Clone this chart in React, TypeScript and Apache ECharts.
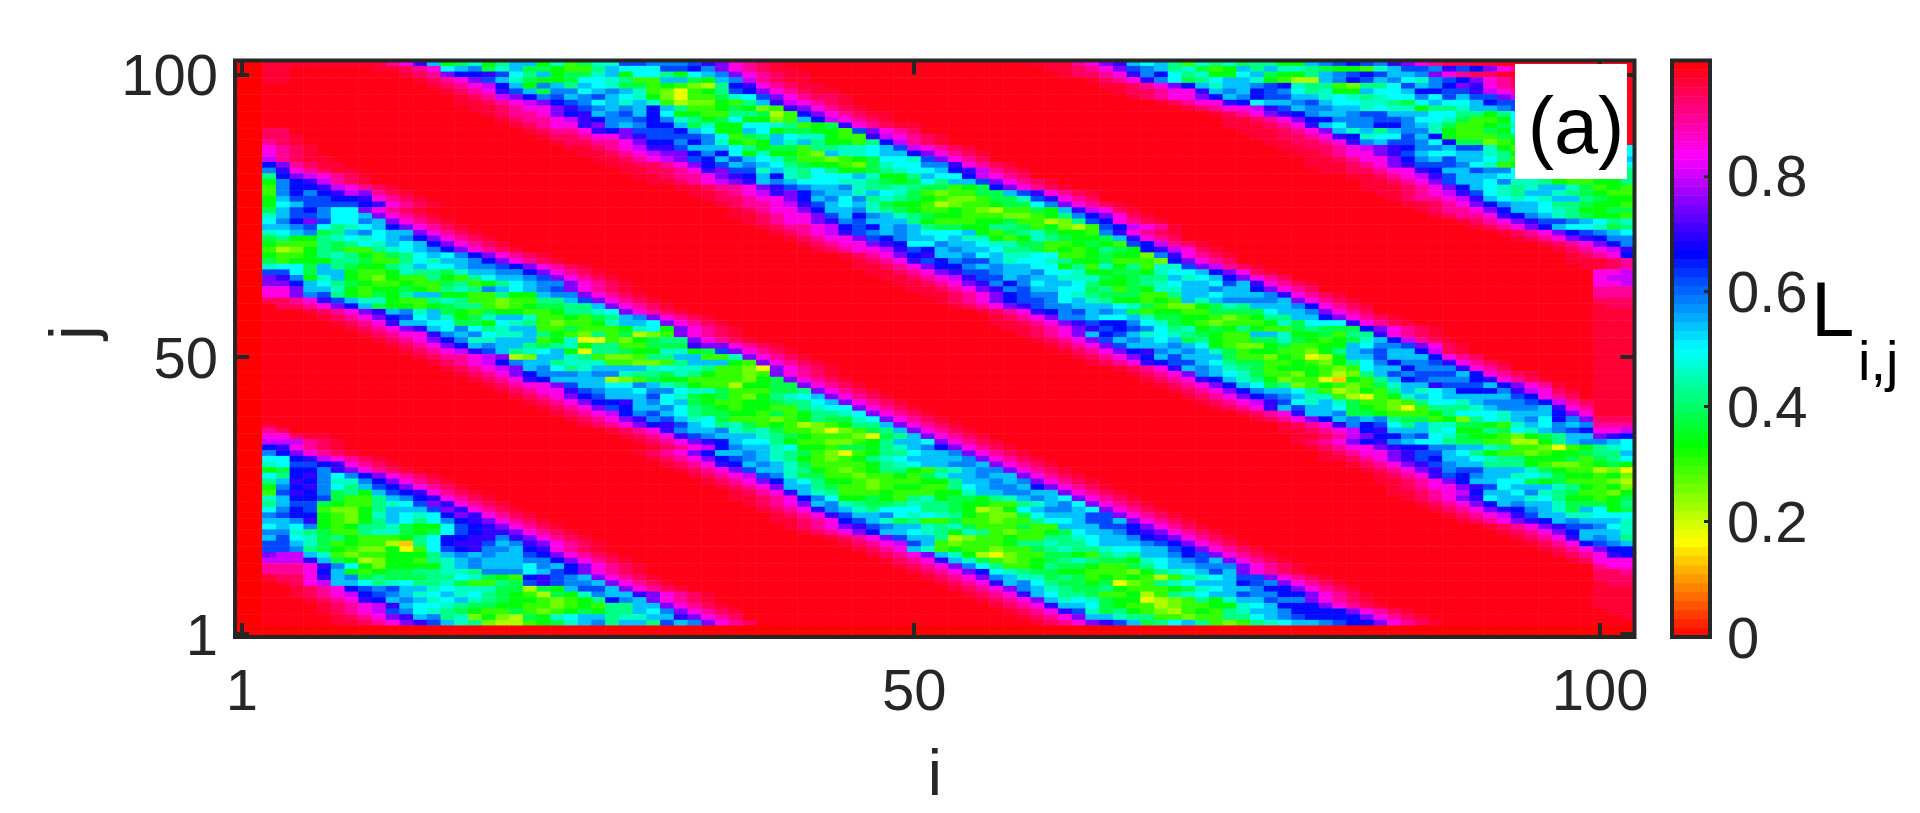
import React, { useEffect, useRef } from "react";
import * as echarts from "echarts";

const COLS = 102;
const ROW_COUNT = 102;
const xTickIndex = [0, 49, 99];
const yTickIndex = [0, 49, 99];
const colorbarTicks = [0, 0.2, 0.4, 0.6, 0.8];
const hsvStops = ["#ff0000", "#ffff00", "#00ff00", "#00ffff", "#0000ff", "#ff00ff", "#ff0000"];

// value for every cell letter (hue of the colour map)
const levels: Record<string, number> = {
  ".": 0.985, a: 0.965, b: 0.94, c: 0.9, d: 0.85, e: 0.8, f: 0.75, g: 0.7, h: 0.66, i: 0.62, j: 0.58,
  k: 0.54, l: 0.5, m: 0.46, n: 0.42, o: 0.38, p: 0.34, q: 0.3, r: 0.26, s: 0.22, t: 0.18, u: 0.13,
};

// one line per row of the map, top row first: "column:cells"; cells not listed are the saturated red of the bands
const rowsTopDown = [
"2:aa 8:aaacdgkpompnkkpmqommiijjjigfdcba 58:aaacdfgklknqmnmonnppkjihijgfdcbbaa",
"2:aa 10:aabcdlkjomkoopqqnkllliihjjkifg 35:fdcbaa...... 59:aabcdfijknmoqpknkmmnoppqmkiijgihfdcbba",
"2:aa 12:abcfhhgilnkpoomkpllnplkjiihgj 36:fdcbaa...... 60:abbcdgjhlnmpplkoppnkjihikkjfdcbba",
"2:aa 13:abcdfikmoppollmnqqkkopkjihjg 37:ecbaa...... 62:abcdgjlonlkkmpqsskjhikjlmjihfdcb",
"14:abcdehkpjknklmooqpqrsnhjikg 37:gdcbaa...... 63:aabcdfhkmkkjihmnnqrnnlikjhfgdcb",
"15:abcdgikojjlkjkmqrtqpnihjig 38:fdcbaa...... 64:abbcddgkjkhijlnmppkllkhhiigedcb",
"16:abcefhjikjiklmprtqqomlijkh 39:fdcbba..... 65:abcddfhkjhiikkmlmnmlljlikiifed",
"16:aabcdefhijlkmkmqsrrpqnkjih 39:gedcba..... 67:abcddghlkkjikllmmnolkllkhiiggf",
"17:aabcddfgijkjkhknqqpoprqmlj 40:gfdcba..... 69:abcddegikjjkkmlmmpnnmkkjihh",
"18:abccdfhgkjikhlppqqnnosqkll 41:hfdcbaa.... 71:abcdfghjkkjiikkkllnnpnljjii",
"19:abccdeghjjihjmnpolpprqkkii 42:hedcba..... 72:aabcdfhhjjjiijllmoqqplllij",
"20:abcddgfjkjhhkomppllmnqpoml 44:gdcbaa.... 72:aaabcdgkljjhhjkmoqqpommkk",
"21:abccdghfiiihklppklpooppqmli 45:ifdcb..... 73:aaabcdfkmknkjjmpqqoplljkm",
"22:abbcddfgiiiijlqonklmmpqqnkk 46:gedcba.... 74:aabbcdghmllikhpqqqoonkkkl",
"23:abbccdfhhjhjmpqpkmknppqnmkk 47:hecba..... 75:aabbcdgjkiijlhoorqpookjjln",
"24:aabcdeggikkklnpooqnnmmlkll 48:iedcba.... 76:aabbcdefghjjkiimpqqrpnkkll",
"25:aabcdeffhjhlpmppqrkmmlkkjik 49:hfdcba.... 77:aabcddfgikllkkmnppqrqnmkl",
"26:aabcdefihkiklmoqqrqpollmkkj 50:ifdcb..... 78:aabcddfhjkikklnqppqqnnlk",
"27:aabbcdfhikjklnoppqromlljk 51:jgdcba.... 78:aaabcdfgiiijlmqpqqppmmml",
"28:aabbcdgfiimkmnlnpponmllkj 52:hgecba.... 79:aabbcddghkkijjlopqqqpnnm",
"29:aabccdfghkhmnlllkmppnkllmjj 53:hedcb..... 81:aabcdegikkkllnnoopqqnnm",
"30:aabcdefgkjklllmmnopolnkkkjj 54:ifdcba.... 82:aabcdfikkljmmnpqqppnnm",
"32:aabccdfgijkkjmnnmnooqpoooll 55:hfdcba.... 82:aaabcdfhklmnmkkmoqpqpqqrqppn",
"33:aabcdegfhjkkmklmoqrqqooklj 57:igdcba.... 83:aabcdegilmnkkmnopqqrqqppmm",
"34:abbcddfhkjljnmnopqrrqoomnk 58:igdcb..... 84:abccdegklmlmkknoppqopqrrpn",
"35:abccdegiklkmoppqsrqqpooll 59:jfdcba.... 85:aabcdfhjkklnnoppqqqsrtuqp",
"36:abcddfhkkjmnopqqpqrsqqopm 60:kgedba.... 86:abccdfhkklmnppoopqssrsqq",
"36:aabcddfikhjkmnoppqqqrrqpnn 61:jhfdba.... 87:abccdghjkmnoppqqrssqqpp",
"37:abcddfgjikkknpqqqppoqqsrnmk 62:ihdcba.... 89:abcdfgiijklnmpqqsttqrr",
"38:abccdehihkjknooppnnoqprsqplk 63:ihedca.... 90:abcdfhkllmonnoopqqoopp",
"39:abcdegijkjklllkpqonmoppqqnmk 63:jgdcba.... 92:abcdfhijkllnopqnqqpp",
"40:abcddfihjkklkmmpqpmnoppoqpln 64:kgdcb..... 93:abcdfghjjkkmnoqq",
"41:abcddfghlljkklmmooqqpopqpqoo 65:ihecba.... 95:abcdfhjkkn",
"42:abcddegihkjkklnnoqpqpnopqpqq 66:hgedba.... 96:abcdeghkn",
"44:abcdfhgkkjlkmmllqqpopprqmm 67:jgdcba.... 97:abcdhkjp",
"45:abcdgihjiikmllmnppoqqqrmm 68:hfdcb..... 97:aaabcdfhl",
"45:aabcdfhhjkjkkllpnqmpnqmmk 69:ifecba.... 98:aabcgh",
"46:aabcdfgiijkkjllmppoopmllk 70:khfdba.... 99:dde",
"47:aabcdegiikjkkmmmoponnkmlkk 72:hfdcb..... 99:dee",
"48:aabcdfgjhjlkklnpponmlkkli 73:kgdcba.... 99:dde",
"49:aabcdfgjikkllonqopmmkkjk 74:hfdcb..... 99:ccc",
"50:aabcdfhijjlmnoooqqnkklk 75:jgdcba.... 99:ccc",
"51:abcdfhiijlkmnppqpqkmkj 76:kfdcba.... 99:bbb",
"52:abcdfgijjkkklmoqrrpomnkk 77:jhdcba.... 99:abb",
"54:abcdghjikjkoqppqqoooolk 78:jfdcb..... 99:aaa",
"55:abcdfjjkllkmooppqrqpnnk 79:hfdcba.... 99:aaa",
"55:aabcdfgihhjlmopqrqqqpmol 81:gdcba.... 99:aaa",
"56:aabcdfgihijlnmpopnpqqonoo 82:hfdcba.... 99:aaa",
"57:abcdfkhikmlmnopqqkkmppoqn 83:gdcba.... 99:aaa",
"58:abcdfikjklkonpqqoomopqpomk 84:hecba.... 99:aaa",
"59:abcdfikkkjklpqrrpoqqppklj 85:ifdba.... 99:aaa",
"60:abcdfhgjkjkmoqppqqrpnkjik 86:heba..... 99:aaa",
"61:abcdfhkikkkoqqrpqtspkkik 87:hdcb..... 99:aaa",
"62:abcdghiiklnooqqpqrpnljhj 87:igdcba... 99:aaa",
"64:abcdgkjkmnoqpppqrqlkkhj 88:jgdcb.... 99:aaa",
"65:abcdfjklmoqqrpqsrnkiji 89:khdcba... 99:aaa",
"66:abcdghkmnprqqtupqnkhij 90:hgdcba... 99:aaa",
"67:abcdfhklonrqpqrqomkkgi 91:khfdca... 99:aaa",
"68:abcdfhjkklnqsrpqnkmlkh 92:jgedba.. 99:aaa",
"69:abcdfhijkmmqstqpmklkkk 93:ihdcb... 99:aaa",
"70:abcdegilmkmoqqrqnllmkj 94:ihecb.. 99:aaa",
"71:abcdgkikklopqrtqnnnmkj 95:kgdcb. 99:aaa",
"73:abcdgkkjoopqqqpnlllmkk 96:hfdcba 99:aaa",
"74:abcdfhkjkjnooqprnlmkjlh 97:jfdb 99:bbb",
"76:abcdgjhilnkmmoopqmkljkkji 98:jgd 99:ccc",
"76:aabcdehgkkkmlppnolmkjihi 99:dde",
"77:aabcefhhjilmoppqrponkkkhg 99:fgh",
"77:abcdfhgjkllnooqqsspnkjjkl",
"78:abcddfghhjjkkmnqqrtqpnmlkk",
"79:abcddfgiiklnpqqrqpponnklk",
"79:aabcdfgihkklmnnpppoqonlmkl",
"81:abcdfgijkknnnpqrrqpopnkn",
"82:abcdfgjiikkkmopqqsrtqqp",
"83:abcdgihjkkmlmoppqprstrp",
"83:aabcdfhkkllopoqqqrstsrp",
"84:abcddfgilkkkmnpqprsuqq",
"84:aabcdehkkljmnoqqrpqrpo",
"85:abcdfglkkmlnppqpomom",
"86:abcdfhkjkkmooopnkln",
"87:abcdfghjkmoklpol",
"88:abcdegikkmmlll",
"89:abcdfghkjkkkmn",
"91:abcdfgiijlmp",
"92:abcdfhkkkmlo",
"93:abcdgkjkn",
"94:abcdhijkl",
"95:abcdfhhi",
"96:abcdghh",
"97:abddd",
"99:cdd",
"99:bbc",
"99:bbb",
"99:abb",
"99:aaa",
"99:aaa",
"99:aaa",
"99:aaa",
"99:aaa",
"99:aaa",
"99:aaa",
];

const tail = "fdcba..............";

// the middle band, running in from the left edge, row index 12 onward
const middleBandFromRow12 = [
"2:bb", "2:bba", "2:cba", "2:dcba", "2:dcba", "2:ecbaa", "2:hfcbaa", "2:jgdcbaa", "2:nhfedcba", "2:pjhgecba",
"2:qjhhgedcba", "2:qjhjhgefcba", "2:pkiiihhgdcba", "2:plkiiiihgdcba",
`2:okihjll 9:${tail}`,
`2:mkiijllk 10:${tail}`,
`2:ljhfilljk 11:${tail}`,
`2:kkjilnmlkh 12:${tail}`,
`2:mlkjonkjlkk 13:${tail}`,
`2:onppnmlmlkjh 14:${tail}`,
`2:pqqqnonlmklkh 15:${tail}`,
`2:qsrpnoqqnmlkjh 16:${tail}`,
`2:pqqpnmnpqonlkljh 18:${tail}`,
`2:oqpppnnoqqnlmkkjh 19:${tail}`,
`2:mlloknoppnmkllkjjihj 21:${tail}`,
`2:iilokkpqqpmnnomkkjjhhk 22:${tail}`,
`2:fgjpmkpqrpqqnpqnlkkjiih 23:${tail}`,
`2:ffhklnopqqpqqonqpnlkjjiik 24:${tail}`,
`2:ddfkkmpqppopqnmnjklkjikm 24:${tail}`,
`2:ddfjinpqopnkkppqqnppkjji 25:${tail}`,
`2:bbcdgikmmpqqnmnqqrqqnnkiil 26:${tail}`,
`3:bbcdfhkoppqponnqrqpoonnkkk 27:${tail}`,
`5:abcdfgkjmkopqoppqqpnnmlljkkihhjkhfdc 28:${tail}`,
`6:abcdfhilkmpomkkmqqpqonkjkliikhgdcba 30:${tail}`,
`7:abcdgkkllooplmnqrqqpmkklnmkkijgdcb 31:${tail}`,
`8:abcdfgkljlnmkkqqoqqqpmlpmkjhgiihgdcba 32:${tail}`,
`9:abcddgjkjlmmknpqrnqosrqnljggfhjkkgdcb 32:${tail}`,
`10:abcdfhjmmkkkqpmttqrponngffikklhdcb 33:${tail}`,
`11:abcdfhkjkknonmpnnqqooogfhkkkihdcba 35:${tail}`,
`12:abcdegiknmlkptnnoppmmpoigfhkkihgdcb 36:${tail}`,
`13:abccdefsrkkmnqrrqnnkkqqmlljlhhfdca 37:${tail}`,
`14:abcdehjkknmmmqqrrqnkkkpqsolikfdcba 38:${tail}`,
`15:abcdefkjlnmkkkkmlmmnqqrtqopllkidcb 39:${tail}`,
`16:abcdfhjjjkjjmnnomnpqqrqoolmkkihfdcba 39:${tail}`,
`17:abcdghkkkksrqoppqqqqrponnlijkkhfdcb 40:${tail}`,
`18:abcddfikklljkmnpqqsppoommkkklkjgdca 41:${tail}`,
`19:abcddgijkkljjlmmoqqqoonoopklkkjhfcb 42:${tail}`,
`20:abcdfhikkkilmopoqrpnmlkllkkijkgdcb 43:${tail}`,
`21:abcdfhhgkjlkopqqpponnlkkjlkjjhfdcb 44:${tail}`,
`22:abcdfihkkjlnopqppqqnmllkmlkkkhgdcb 45:${tail}`,
`23:abcdehjiklnooppqoqpnnmlllkmkihfdcb 46:${tail}`,
`24:abcdfgjikmloqqqrqpnoomlkjmnnjhgdca 47:${tail}`,
`25:abcdfhgiklnmoqpqsrqpnnkklkklkjifdcb 48:${tail}`,
`27:abcdgjkkjmnmoqqrtrqonkllkkjikjgdcb 49:${tail}`,
`28:abcdgijkkkmnopqqqrtonkkijjhijkhfdba 50:${tail}`,
`29:abcdfghkllnpqqrrqpnkkljhjjkihgdcb 51:${tail}`,
`30:abcdehjkkmlppqoopnmkjhhgikjhjifdcb 52:${tail}`,
`29:abcdfhkkjkmnoqrtqpnnlkkjkkh 53:${tail}`,
`30:abcdfhijkmnpqrqpnmlkkkkjh 54:${tail}`,
`31:abcdghkjkmoqqqqpnmlkkjjkh 55:${tail}`,
`32:abcdfikkmnpqrqpnnpqnmkjji 56:${tail}`,
`33:abcdeijmooqqrqqpqomkkjkk 57:${tail}`,
`34:abcdfhklnppqrqqqppnkkjkj 58:${tail}`,
`35:abcdfkknoqqrqppqqnlkjjkh 59:${tail}`,
`36:abcdgkmnqqqpqqqppmkkjjkki 60:${tail}`,
`36:aabcdhjlppopqnmpoopnmkjkll 61:${tail}`,
`37:abcdfkjmnoonmnnoppqqnmkjlk 62:${tail}`,
`38:abcdgjkmnlllnnopsrplkjjklkk 63:${tail}`,
`39:abcdgikkjlmlmnpqrrolkkkiikk 64:${tail}`,
`39:aabcdhikmonqqoqqrqqnllkiikj 65:${tail}`,
`40:abcdfgijkkmnmoqqqoqqkkkiihh 66:${tail}`,
`41:abcdfhkklmnpmnqrqqpolkkjhgh 67:${tail}`,
`43:abcdfikknsrqqpqqnnmlkkjhgg 68:${tail}`,
`44:abcdeikqrqqqpnnmnnlkkkjihh 69:${tail}`,
`45:abcdkmqpqqrqqonmnnmllkkihh 70:${tail}`,
`46:abcdfkmpstrqqoopqnmnkkjhi 71:${tail}`,
`47:abcdgkmoqrqponmnoopmlkjiki 72:${tail}`,
`48:abcdfjlnqqpnoopqqonlkkjj 73:${tail}`,
`49:abcdfhlmnooppqqqrpnmlkik 73:${tail}`,
`50:abcdfjkmmonoqpqpqsqnmlki 75:${tail}`,
`51:abcdgkjlnoopotrqnmlkkkhij 76:${tail}`,
`52:abcdfjkmnoonpqqqpomlkkjh 77:${tail}`,
`53:abcdgklnnoqqpsqnmlkkijjh 78:${tail}`,
`54:abcdfkmlmopptsrqnpmkkij 78:${tail}`,
`55:abcdgkklopqqsrqqppmlkh 79:${tail}`,
`56:abcdgimonpqrsqpqnmkkjh 81:${tail}`,
`57:abcdfkkmnnqqrqqnnlkjihh 82:${tail}`,
`58:abcdfgikonlknqrqnmlkkjih 83:${tail}`,
];

// the lower-left band, row index 64 onward
const lowerBandFromRow64 = [
"2:a", "2:cb", "2:ddbaa", "2:eeecba", "2:hgdcba", "2:jhfdcba",
"2:llhgedcba",
"2:mliihgdcba",
"2:pohhjgfdcba",
"2:lnhgjljhfdcba",
"2:nkghjmmjhfdcba",
"2:pjhgjlnkihfdcba",
"2:qighjonpkihgdcba",
"2:mkhhioqqnkjhgdcba",
"2:nkiiopqqnmlifgdcba",
"2:ljhiqrrpnkkkifgdcba",
"2:jihhpqrpmklmlhfgdcba",
"2:kkjgpqrpnklnljhgfdcba",
"2:lkljpqpnnmopplihgfdcba",
"2:jjmnoqqnmmopolihggfdcba",
"2:kilmonpqqqpnlhhggjgfdcba",
"2:iikmoqpqqsunlhggikjgfdcba",
"2:iijnopqrrptqlihgjjkhgdcba",
"2:feekmqrqqpppnkjkjkkihfdcba",
"2:eeegkopsrppqnmkjkkkjjhfdcba",
"2:cccdgjlprppppmkjkkkljkhfdcba",
"2:cccdhkpqpoonnmmnjjjlkihfdcba",
"2:abbdgkjonooonnlmopqhgijkfdcba",
"3:abdekklnmlnnmoqqnoigijjkfdcba",
"4:abcdhijikkmlmmmoosopkiikfdcba",
"4:abcdehijkmlkmlnopqsopmjkkgfdcba",
"5:abcdghkjkmlkmnoppqrqpnhjkfdcba",
"6:abcdegkllmnooppqqrqpqnnkkfdcba",
"6:abcdeijlmnopqqoqrqpopnnkljfdcba",
"7:abcdfgkjnmrprsopmlkknmmkkgfdcb",
"7:aabcdfgikmnrssqpomkjnkknikjfdcb",
];

function buildMatrix() {
  const grid = Array.from({ length: ROW_COUNT }, () => new Array(COLS).fill("."));
  const stamp = (t: number, line: string) => {
    let end = -1;
    let last = ".";
    for (const token of line.split(" ")) {
      const [col, cells] = token.split(":");
      const start = Number(col);
      if (end >= 0 && start > end && start - end <= 5) {
        for (let c = end; c < start; c++) grid[t][c] = last;
      }
      [...cells].forEach((ch, k) => {
        if (start + k < COLS) grid[t][start + k] = ch;
      });
      end = start + cells.length;
      last = cells[cells.length - 1];
    }
  };
  rowsTopDown.forEach((line, t) => stamp(t, line));
  middleBandFromRow12.forEach((line, k) => stamp(12 + k, line));
  lowerBandFromRow64.forEach((line, k) => stamp(64 + k, line));
  const data: [number, number, number][] = [];
  for (let t = 0; t < ROW_COUNT; t++) {
    for (let c = 0; c < COLS; c++) {
      const pure = c < 2 || t >= 100;
      data.push([c, ROW_COUNT - 1 - t, pure ? 0 : levels[grid[t][c]] ?? levels["."]]);
    }
  }
  return data;
}

const ink = "#262626";
const font = "Liberation Sans, Arial, sans-serif";
const cats = (n: number) => Array.from({ length: n }, (_, i) => String(i + 1));

export default function App() {
  const ref = useRef<HTMLDivElement>(null);
  useEffect(() => {
    const chart = echarts.init(ref.current!, undefined, { renderer: "svg" });
    const xShow = (i: number) => xTickIndex.includes(i);
    const yShow = (i: number) => yTickIndex.includes(i);
    const barLevels = Array.from({ length: 64 }, (_, k) => [0, k, (k + 0.5) / 64]);
    const tick = (interval: (i: number) => boolean) => ({
      show: true, inside: true, alignWithLabel: true, interval, length: 14, lineStyle: { color: ink, width: 4 },
    });
    chart.setOption({
      animation: false,
      backgroundColor: "#fff",
      visualMap: {
        type: "continuous", show: false, min: 0, max: 1, seriesIndex: [0, 1],
        inRange: { color: hsvStops },
      },
      grid: [
        { left: 235, top: 60.5, width: 1399.5, height: 576.5, outerBoundsMode: "none" },
        { left: 1672, top: 60.5, width: 38, height: 576.5, outerBoundsMode: "none" },
      ],
      xAxis: [
        {
          type: "category", gridIndex: 0, data: cats(COLS), z: 10, zlevel: 1, name: "i", nameLocation: "middle", nameGap: 104,
          nameTextStyle: { fontFamily: font, fontSize: 64, color: ink },
          axisLine: { show: false },
          axisTick: tick(xShow),
          axisLabel: { interval: xShow, margin: 23, fontFamily: font, fontSize: 58, color: ink },
          splitLine: { show: false },
        },
        {
          type: "category", gridIndex: 0, data: cats(COLS), position: "top", z: 10, zlevel: 1,
          axisLine: { show: false },
          axisTick: tick(xShow),
          axisLabel: { show: false }, splitLine: { show: false },
        },
        {
          type: "category", gridIndex: 1, data: ["0"], axisLine: { show: false }, axisTick: { show: false },
          axisLabel: { show: false }, splitLine: { show: false },
        },
      ],
      yAxis: [
        {
          type: "category", gridIndex: 0, data: cats(ROW_COUNT), z: 10, zlevel: 1, name: "j", nameLocation: "middle", nameGap: 130,
          nameTextStyle: { fontFamily: font, fontSize: 64, color: ink, padding: [0, 0, 0, 32] },
          axisLine: { show: false },
          axisTick: tick(yShow),
          axisLabel: { interval: yShow, margin: 17, fontFamily: font, fontSize: 58, color: ink },
          splitLine: { show: false },
        },
        {
          type: "category", gridIndex: 0, data: cats(ROW_COUNT), position: "right", z: 10, zlevel: 1,
          axisLine: { show: false },
          axisTick: tick(yShow),
          axisLabel: { show: false }, splitLine: { show: false },
        },
        {
          type: "category", gridIndex: 1, data: cats(64), axisLine: { show: false }, axisTick: { show: false },
          axisLabel: { show: false }, splitLine: { show: false },
        },
        {
          type: "value", gridIndex: 1, position: "right", min: 0, max: 1, interval: 0.2, z: 10, zlevel: 1,
          axisLine: { show: false },
          axisTick: { show: true, inside: true, length: 6, lineStyle: { color: ink, width: 3 } },
          axisLabel: {
            margin: 17, fontFamily: font, fontSize: 58, color: ink,
            formatter: (v: number) => (colorbarTicks.some((t) => Math.abs(t - v) < 1e-6) ? String(Math.round(v * 10) / 10) : ""),
          },
          splitLine: { show: false },
        },
      ],
      series: [
        { type: "heatmap", xAxisIndex: 0, yAxisIndex: 0, data: buildMatrix(), progressive: 0, itemStyle: { borderWidth: 0 } },
        { type: "heatmap", xAxisIndex: 2, yAxisIndex: 2, data: barLevels, progressive: 0, itemStyle: { borderWidth: 0 } },
      ],
      graphic: [
        { type: "rect", z: 100, zlevel: 1, shape: { x: 235, y: 60.5, width: 1399.5, height: 576.5 }, style: { fill: "none", stroke: ink, lineWidth: 4 } },
        { type: "rect", z: 100, zlevel: 1, shape: { x: 1672, y: 60.5, width: 38, height: 576.5 }, style: { fill: "none", stroke: ink, lineWidth: 4 } },
        { type: "rect", z: 101, zlevel: 1, shape: { x: 1515, y: 64, width: 112, height: 115 }, style: { fill: "#fff" } },
        { type: "text", z: 102, zlevel: 1, x: 1576, y: 125, style: { text: "(a)", fontFamily: font, fontSize: 79, fill: "#000", align: "center", verticalAlign: "middle" } },
        { type: "text", z: 102, zlevel: 1, x: 1811, y: 309, style: { text: "L", fontFamily: font, fontSize: 78, fill: "#000", align: "left", verticalAlign: "middle" } },
        { type: "text", z: 102, zlevel: 1, x: 1858, y: 360, style: { text: "i,j", fontFamily: font, fontSize: 56, fill: "#000", align: "left", verticalAlign: "middle" } },
      ],
    });
    return () => chart.dispose();
  }, []);
  return <div ref={ref} style={{ position: "absolute", left: 0, top: 0, width: 1920, height: 813 }} />;
}
